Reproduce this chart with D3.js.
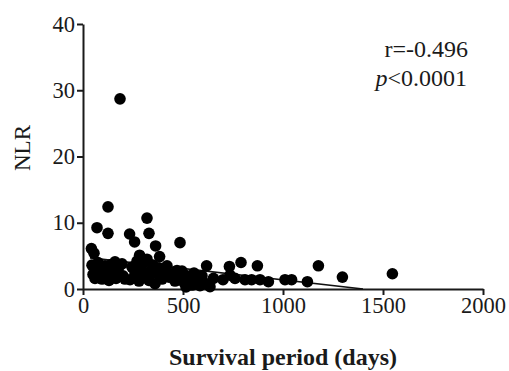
<!DOCTYPE html>
<html>
<head>
<meta charset="utf-8">
<script src="https://cdn.jsdelivr.net/npm/d3@7"></script>
<style>
  body { margin: 0; background: #fff; }
  svg { display: block; font-family: "Liberation Serif", "Times New Roman", serif; }
  .axis path, .axis line { stroke: #1a1a1a; stroke-width: 2; }
  .axis text { font-size: 22.5px; fill: #1a1a1a; font-family: "Liberation Serif", serif; }
</style>
</head>
<body>
<div id="chart"></div>
<script>
// survival period (days) vs NLR
const days = [
  185, 125, 70, 125, 320, 330, 233, 258, 485, 363, 42, 55, 283, 383,
  45, 50, 60, 65, 75, 85, 95, 110, 115, 130, 140, 150, 160, 165, 175, 195, 200, 210,
  235, 245, 260, 270, 280, 290, 300, 310, 320, 330, 340, 350, 360, 370, 380, 395, 405, 420, 430, 445, 460, 470, 480,
  495, 505, 515, 520, 535, 545, 555, 570, 585, 595,
  635, 610, 652, 618, 700, 735, 760, 732, 790, 810, 843, 872, 885, 927, 1010, 1043, 1122, 1177, 1297, 1547
];
const nlr = [
  28.7, 12.4, 9.25, 8.4, 10.7, 8.4, 8.3, 7.1, 7.0, 6.5, 6.1, 5.4, 5.1, 4.9,
  3.6, 2.2, 1.6, 3.0, 4.0, 2.0, 1.5, 3.5, 2.6, 1.3, 3.7, 2.2, 4.1, 1.6, 3.0, 3.8, 2.0, 1.5,
  1.4, 3.3, 2.4, 4.2, 1.2, 3.0, 3.9, 2.0, 4.5, 1.3, 2.8, 3.6, 0.8, 2.3, 3.2, 1.5, 2.6, 3.5, 1.8, 2.2, 1.2, 2.8, 1.6,
  2.7, 1.0, 0.3, 2.0, 1.5, 0.6, 2.4, 1.2, 0.5, 2.0,
  0.35, 0.85, 1.6, 3.5, 1.4, 2.1, 1.6, 3.4, 4.0, 1.4, 1.4, 3.5, 1.4, 1.1, 1.4, 1.4, 1.1, 3.5, 1.8, 2.3
];
// regression line end points
const fitDays = [35, 1400];
const fitNlr = [4.7, 0];

const xTicks = [0, 500, 1000, 1500, 2000];
const yTicks = [0, 10, 20, 30, 40];

const W = 509, H = 371;
const margin = { left: 83, top: 24, right: 26, bottom: 82 };

const svg = d3.select("#chart").append("svg")
  .attr("width", W).attr("height", H);

const x = d3.scaleLinear().domain([0, 2000]).range([margin.left, W - margin.right]);
const y = d3.scaleLinear().domain([0, 40]).range([H - margin.bottom, margin.top]);

// axes
svg.append("g")
  .attr("class", "axis")
  .attr("transform", `translate(0,${y(0)})`)
  .call(d3.axisBottom(x).tickValues(xTicks).tickFormat(d3.format("d"))
    .tickSize(6).tickSizeOuter(0).tickPadding(2));

svg.append("g")
  .attr("class", "axis")
  .attr("transform", `translate(${x(0)},0)`)
  .call(d3.axisLeft(y).tickValues(yTicks).tickFormat(d3.format("d"))
    .tickSize(6).tickSizeOuter(0).tickPadding(2));

// fit line
svg.append("line")
  .attr("x1", x(fitDays[0])).attr("y1", y(fitNlr[0]))
  .attr("x2", x(fitDays[1])).attr("y2", y(fitNlr[1]))
  .attr("stroke", "#111").attr("stroke-width", 1.6);

// points
svg.selectAll(".pt")
  .data(days.map((d, i) => ({ d: d, v: nlr[i] })))
  .enter()
  .append("circle")
  .attr("class", "pt")
  .attr("cx", (p) => x(p.d))
  .attr("cy", (p) => y(p.v))
  .attr("r", 5.8)
  .attr("fill", "#000");

// axis titles
svg.append("text")
  .attr("x", (x(0) + x(2000)) / 2)
  .attr("y", 365)
  .attr("text-anchor", "middle")
  .attr("font-weight", "bold")
  .attr("font-size", 24)
  .attr("fill", "#1a1a1a")
  .text("Survival period (days)");

svg.append("text")
  .attr("transform", "translate(30,148) rotate(-90)")
  .attr("text-anchor", "middle")
  .attr("font-size", 23)
  .attr("fill", "#1a1a1a")
  .text("NLR");

// stats annotation
svg.append("text")
  .attr("x", 468).attr("y", 57)
  .attr("text-anchor", "end")
  .attr("font-size", 24)
  .attr("fill", "#1a1a1a")
  .text("r=-0.496");

const pt = svg.append("text")
  .attr("x", 467).attr("y", 86)
  .attr("text-anchor", "end")
  .attr("font-size", 24)
  .attr("fill", "#1a1a1a");
pt.append("tspan").attr("font-style", "italic").text("p");
pt.append("tspan").text("<0.0001");
</script>
</body>
</html>
